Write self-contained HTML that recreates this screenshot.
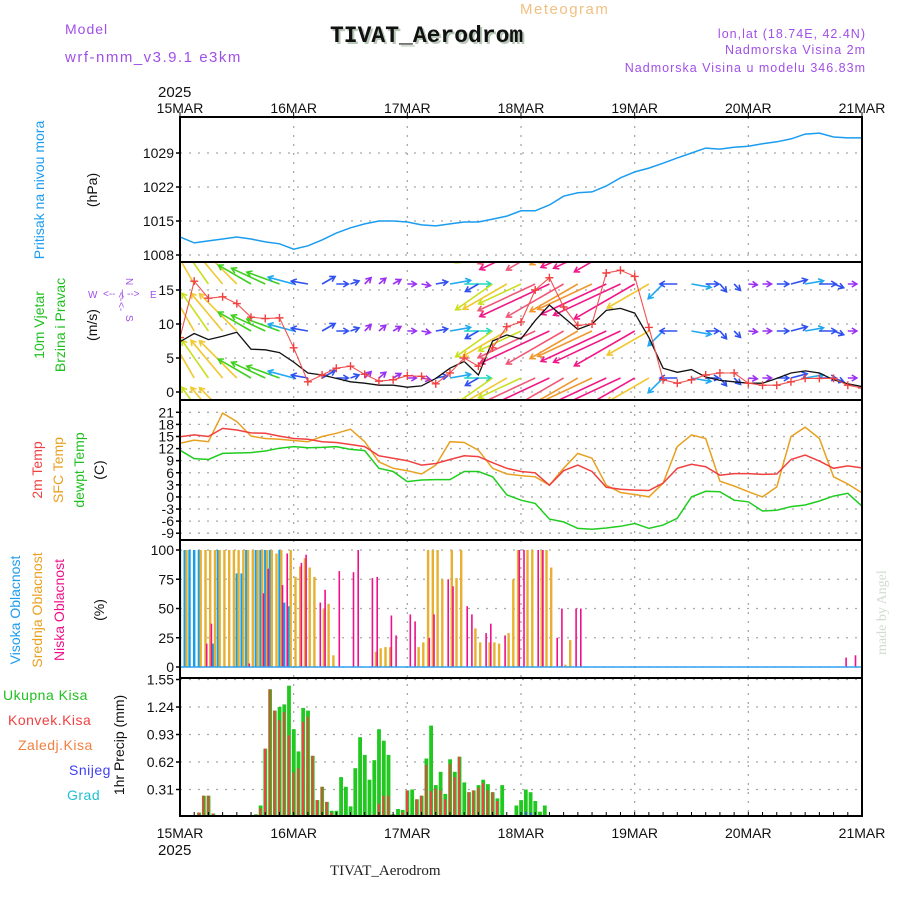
<!DOCTYPE html>
<html><head><meta charset="utf-8"><style>
html,body{margin:0;padding:0;background:#fff;}
svg{display:block;font-family:"Liberation Sans",sans-serif;}
</style></head><body>
<svg id="chart" width="900" height="900" viewBox="0 0 900 900" xmlns="http://www.w3.org/2000/svg">
<defs>
<clipPath id="cpP"><rect x="180" y="117" width="682" height="145"/></clipPath>
<clipPath id="cpW"><rect x="180" y="262" width="682" height="138"/></clipPath>
<clipPath id="cpT"><rect x="180" y="400" width="682" height="140"/></clipPath>
<clipPath id="cpC"><rect x="180" y="540" width="682" height="138"/></clipPath>
<clipPath id="cpR"><rect x="180" y="678" width="682" height="138"/></clipPath>
</defs>
<g>
<text x="65" y="34" font-size="14" fill="#a050e8" letter-spacing="1">Model</text>
<text x="65" y="62" font-size="15" fill="#a050e8" letter-spacing="1.5">wrf-nmm_v3.9.1 e3km</text>
<text x="520" y="14" font-size="15" fill="#f0c080" letter-spacing="1.5">Meteogram</text>
<text x="332" y="44" font-size="23" font-weight="bold" fill="#b8c8b8" font-family="Liberation Mono, monospace">TIVAT_Aerodrom</text>
<text x="330" y="42" font-size="23" font-weight="bold" fill="#111" font-family="Liberation Mono, monospace">TIVAT_Aerodrom</text>
<text x="866" y="38" font-size="12.5" fill="#a050e8" text-anchor="end" letter-spacing="1">lon,lat (18.74E, 42.4N)</text>
<text x="866" y="54" font-size="12.5" fill="#a050e8" text-anchor="end" letter-spacing="1">Nadmorska Visina 2m</text>
<text x="866" y="72" font-size="12.5" fill="#a050e8" text-anchor="end" letter-spacing="1">Nadmorska Visina u modelu 346.83m</text>
<text x="330" y="875" font-size="15" fill="#222" font-family="Liberation Serif, serif">TIVAT_Aerodrom</text>
<text transform="translate(886,655) rotate(-90)" font-size="14" fill="#d0dcd0" font-family="Liberation Serif, serif">made by Angel</text>
<text x="158" y="97" font-size="15" fill="#111">2025</text>
<text x="158" y="855" font-size="15" fill="#111">2025</text>
</g>
<g>
<text transform="translate(44,190) rotate(-90)" font-size="14" fill="#1e9cf0" text-anchor="middle">Pritisak na nivou mora</text>
<text transform="translate(97,190) rotate(-90)" font-size="14" fill="#111" text-anchor="middle">(hPa)</text>
<text transform="translate(44,325) rotate(-90)" font-size="14" fill="#20c020" text-anchor="middle">10m Vjetar</text>
<text transform="translate(65,325) rotate(-90)" font-size="14" fill="#20c020" text-anchor="middle">Brzina i Pravac</text>
<text transform="translate(97,325) rotate(-90)" font-size="14" fill="#111" text-anchor="middle">(m/s)</text>
<g fill="#a050e8" font-size="10">
<text x="88" y="298">W</text><text x="103" y="297">&lt;--</text><text x="121" y="297">|</text><text x="127" y="297">--&gt;</text><text x="150" y="298">E</text>
<text transform="translate(126,278) rotate(90)">N</text><text transform="translate(118,292) rotate(90)">&lt;-</text>
<text transform="translate(118,302) rotate(90)">&lt;-</text><text transform="translate(126,315) rotate(90)">S</text>
</g>
<text transform="translate(42,470) rotate(-90)" font-size="14" fill="#f04040" text-anchor="middle">2m Temp</text>
<text transform="translate(63,470) rotate(-90)" font-size="14" fill="#e8a020" text-anchor="middle">SFC Temp</text>
<text transform="translate(84,470) rotate(-90)" font-size="14" fill="#20c020" text-anchor="middle">dewpt Temp</text>
<text transform="translate(104,470) rotate(-90)" font-size="14" fill="#111" text-anchor="middle">(C)</text>
<text transform="translate(20,610) rotate(-90)" font-size="14" fill="#1e9cf0" text-anchor="middle">Visoka Oblacnost</text>
<text transform="translate(42,610) rotate(-90)" font-size="14" fill="#e8a020" text-anchor="middle">Srednja Oblacnost</text>
<text transform="translate(64,610) rotate(-90)" font-size="14" fill="#f0108a" text-anchor="middle">Niska Oblacnost</text>
<text transform="translate(104,610) rotate(-90)" font-size="14" fill="#111" text-anchor="middle">(%)</text>
<text x="3" y="700" font-size="14" fill="#20c020" letter-spacing="0.5">Ukupna Kisa</text>
<text x="8" y="725" font-size="14" fill="#f04040" letter-spacing="0.5">Konvek.Kisa</text>
<text x="18" y="750" font-size="14" fill="#f08040" letter-spacing="0.5">Zaledj.Kisa</text>
<text x="69" y="775" font-size="14" fill="#4040f0" letter-spacing="0.5">Snijeg</text>
<text x="67" y="800" font-size="14" fill="#20c0d0" letter-spacing="0.5">Grad</text>
<text transform="translate(124,745) rotate(-90)" font-size="14" fill="#111" text-anchor="middle">1hr Precip (mm)</text>
</g>
<g id="grid"></g>
<g id="marks"></g>
<g id="axes"></g>
</svg>
<script>
// ---- data (3-hourly series, index i -> hour 3*i from 15MAR 00) ----
const dayLabels = ["15MAR","16MAR","17MAR","18MAR","19MAR","20MAR","21MAR"];
const pressTicks = [1008,1015,1022,1029];
const windTicks = [0,5,10,15];
const tempTicks = [21,18,15,12,9,6,3,0,-3,-6,-9];
const cloudTicks = [0,25,50,75,100];
const precipTicks = ["0.31","0.62","0.93","1.24","1.55"];
const pressure = [1011.7,1010.5,1010.9,1011.3,1011.7,1011.3,1010.7,1010.3,1009.2,1009.9,1011.1,1012.5,1013.6,1014.4,1015.0,1015.0,1014.8,1014.2,1014.0,1014.4,1014.8,1014.8,1015.4,1016.0,1017.1,1017.1,1018.3,1020.1,1020.8,1021.0,1022.2,1023.9,1025.1,1025.9,1026.9,1028.0,1029.0,1030.0,1029.8,1030.2,1030.4,1030.9,1031.3,1031.9,1032.9,1033.1,1032.3,1032.1,1032.1];
const windSpeed = [7.4,8.6,7.7,8.2,8.8,6.3,6.2,5.8,4.4,2.8,2.5,2.0,1.5,1.3,1.0,1.0,0.7,0.9,2.0,3.5,4.5,2.5,7.5,8.4,7.8,10.5,12.8,11.0,9.2,10.0,12.0,12.3,11.6,8.0,3.5,2.9,3.3,2.2,1.7,1.5,1.3,1.3,2.0,2.8,3.1,2.8,1.8,1.2,0.8];
const windGust = [8.0,16.3,13.8,14.0,13.0,11.0,10.8,10.9,6.5,1.5,2.5,3.5,3.8,2.6,1.6,1.8,2.4,2.3,1.2,2.8,5.0,3.8,6.5,9.6,10.3,15.0,16.8,12.5,9.8,10.0,17.5,17.9,17.0,9.5,1.8,1.3,1.8,2.5,2.8,2.8,1.3,1.0,1.0,1.5,2.0,2.0,2.0,1.0,0.6];
const windDir = [330,330,325,320,315,300,295,290,285,280,60,90,70,45,50,60,90,100,80,80,90,240,235,240,245,245,245,240,240,245,245,245,240,240,225,270,100,90,140,135,95,90,90,75,80,90,110,90,90];
const temp2m = [14.95,15.4,15.0,17.0,16.6,15.9,15.8,15.1,14.5,14.3,13.7,13.5,13.0,12.5,10.2,9.6,9.0,7.9,8.3,9.3,10.2,10.0,8.5,7.1,6.3,6.0,2.9,6.5,7.9,6.3,2.4,1.9,1.7,1.6,3.4,7.1,8.1,7.5,5.4,5.8,5.8,5.6,5.7,9.3,10.4,8.9,7.1,7.7,7.2];
const tempSfc = [13.3,14.1,13.7,20.8,18.7,15.1,14.5,14.3,14.0,13.7,15.0,15.8,16.8,13.7,8.7,7.1,6.5,5.7,7.9,13.7,13.5,11.6,7.1,5.7,5.3,5.0,2.9,7.1,10.8,9.6,2.9,1.1,0.6,0.0,3.4,12.5,15.4,14.5,3.9,2.7,1.3,0.0,2.5,15.0,17.3,14.5,5.0,3.2,1.0];
const tempDew = [11.6,9.5,9.3,10.8,10.9,11.0,11.4,12.1,12.5,12.2,12.3,12.5,11.8,11.5,7.1,6.3,3.8,4.2,4.3,4.3,6.3,6.3,5.0,0.5,-0.8,-1.6,-5.5,-6.2,-7.8,-8.0,-7.7,-7.3,-6.6,-7.8,-7.0,-5.3,0.0,1.4,1.3,-0.8,-1.2,-3.5,-3.3,-2.4,-2.0,-1.0,0.2,0.9,-2.3];
// hourly cloud bars (hour, %)
const cloudHighHours = [0,1,2,3,4,7,8,12,13,14,16,17,18,19,21,22,23];
const cloudHighVals  = [100,100,100,100,100,20,100,80,80,100,100,100,100,100,100,55,52];
const cloudMidHours = [1,4,5,6,7,8,9,10,11,12,13,14,15,16,17,18,19,20,21,23,24,25,26,27,28,30,31,32,41,42,43,44,50,51,52,53,54,55,57,58,59,62,63,65,66,67,69,70,71,73,74,76,77,78,80,81,82];
const cloudMidVals  = [100,100,100,100,100,100,100,100,100,100,100,100,100,100,100,100,100,97,100,100,77,86,93,85,77,50,54,10,13,16,17,17,17,21,100,100,100,75,100,76,100,33,21,21,21,20,29,75,100,100,100,100,100,85,1,2,23];
const cloudLowHours = [5,6,14,17,18,21,22,25,26,29,30,33,36,37,40,41,44,45,48,49,52,53,56,57,60,61,64,65,68,71,72,75,76,79,80,83,84,140,142];
const cloudLowVals  = [20,37,3,63,84,70,97,89,96,55,66,82,81,100,76,77,44,27,45,39,25,45,75,69,52,45,29,37,27,100,100,100,100,25,50,50,50,8,10];
// hourly precipitation (hour, mm)
const precipHours = [4,5,6,7,16,17,18,19,20,21,22,23,24,25,26,27,28,29,30,31,32,33,34,35,36,37,38,39,40,41,42,43,44,45,46,47,48,49,50,51,52,53,54,55,56,57,58,59,60,61,62,63,64,65,66,67,68,69,71,72,73,74,75,76,77];
const precipTotal = [.05,.24,.24,.04,.03,.13,.77,1.44,1.2,1.24,1.27,1.48,.99,.74,1.23,1.2,.69,.19,.34,.17,.07,.07,.45,.34,.12,.55,.9,.7,.42,.64,.99,.86,.7,.03,.09,.08,.3,.31,.2,.24,.66,1.03,.36,.51,.26,.65,.51,.68,.39,.28,.3,.36,.42,.37,.28,.21,.36,.02,.13,.19,.31,.28,.18,.06,.13];
const precipConv = [.05,.24,.24,.04,0,.1,.77,1.44,1.2,1.09,1.18,.92,.5,.55,1.07,1.13,.69,.19,.34,.17,.05,0,0,0,0,0,0,0,0,.03,.15,.24,.24,0,0,.05,.3,0,.2,.24,.59,.29,.32,.3,.2,.6,.45,.68,0,.28,.3,.33,.38,.3,.28,.18,0,0,0,0,0,0,0,0,0];
const snowHours = [73,74,75];
const snowVals = [.06,.05,.02];

// ---- axis functions ----
const X0=180, X1=862;
const xh = h => X0 + h*(X1-X0)/144;
const xi = i => xh(i*3);
const yP = p => 255 - (p-1008)*4.857;
const yW = v => 392 - v*6.8;
const yT = t => 412.3 + (21-t)*4.03;
const yC = c => 667 - c*1.17;
const yR = r => 817 - r*88.7;

const NS="http://www.w3.org/2000/svg";
function mk(tag, attrs, parent){const e=document.createElementNS(NS,tag);for(const k in attrs)e.setAttribute(k,attrs[k]);parent.appendChild(e);return e;}
const grid=document.getElementById('grid'), marks=document.getElementById('marks'), axes=document.getElementById('axes');
const dot={stroke:"#a8a8a8","stroke-width":1.3,"stroke-dasharray":"2,7"};

// horizontal grid + tick labels
function hgrid(ticks, fy, labels, name){
  ticks.forEach((t,k)=>{
    const y=fy(+t);
    const g=mk('line',Object.assign({x1:X0,x2:X1,y1:y,y2:y},dot),grid);
    
    
    const tk=mk('line',{x1:X0-4,x2:X0,y1:y,y2:y,stroke:"#000","stroke-width":1.5},axes);
    
    
    const tx=mk('text',{x:X0-6,y:y+5,"font-size":14,"text-anchor":"end",fill:"#111"},axes);
    
    
    tx.textContent = labels ? labels[k] : t;
  });
}
hgrid(pressTicks,yP,null,'pressure');
hgrid(windTicks,yW,null,'wind');
hgrid(tempTicks,yT,null,'temp');
hgrid(cloudTicks,yC,null,'cloud');
hgrid(precipTicks,yR,precipTicks,'precip');
// vertical day grid
dayLabels.forEach((d,k)=>{
  const x=xh(k*24);
  if(k>0&&k<6){
    const v=mk('line',Object.assign({x1:x,x2:x,y1:117,y2:816},dot),grid);
    
    
  }
  const t1=mk('text',{x:x,y:113,"font-size":14,"text-anchor":"middle",fill:"#111"},axes);
  
  
  t1.textContent=d;
  const t2=mk('text',{x:x,y:838,"font-size":14,"text-anchor":"middle",fill:"#111"},axes);
  
  
  t2.textContent=d;
  const tk=mk('line',{x1:x,x2:x,y1:112,y2:118,stroke:"#000","stroke-width":1},axes);
  
  
});
for(let h=0;h<=144;h+=3){
  const tk=mk('line',{x1:xh(h),x2:xh(h),y1:812,y2:816,stroke:"#000","stroke-width":1},axes);
  
  
}
// panel frames
[[117,262],[262,400],[400,540],[540,678],[678,816]].forEach(p=>{
  const r=mk('rect',{x:X0,y:p[0],width:X1-X0,height:p[1]-p[0],fill:"none",stroke:"#000","stroke-width":2},axes);
  
  
});

function poly(vals, fy, color, name, clip, w){
  const pts=vals.map((v,i)=>xi(i).toFixed(1)+","+fy(v).toFixed(1)).join(" ");
  const l=mk('polyline',{points:pts,fill:"none",stroke:color,"stroke-width":w||1.4,"clip-path":"url(#"+clip+")"},marks);
  
  
}
// pressure
poly(pressure,yP,"#1a9cf0",'pressure-line','cpP',1.5);

// wind arrows
function windColor(v){
  if(v<1.5) return "#9a30f0";
  if(v<3) return "#3050f0";
  if(v<4.5) return "#20a8f0";
  if(v<5.8) return "#20d8c0";
  if(v<7) return "#40d020";
  if(v<8) return "#c8e020";
  if(v<9) return "#f0c830";
  if(v<10.5) return "#f09830";
  if(v<11.5) return "#f05878";
  return "#f01888";
}
const rows=[237,284,331,378,425];
const wg=mk('g',{"clip-path":"url(#cpW)"},marks);


rows.forEach(by=>{
  windSpeed.forEach((v,i)=>{
    const a=windDir[i]*Math.PI/180, L=Math.max(9,v*6);
    const x=xi(i), dx=Math.sin(a), dy=-Math.cos(a);
    const hx=x+dx*L, hy=by+dy*L, c=windColor(v);
    const ar=mk('path',{d:`M${x.toFixed(1)},${by} L${hx.toFixed(1)},${hy.toFixed(1)} M${(hx-dx*5-dy*3).toFixed(1)},${(hy-dy*5+dx*3).toFixed(1)} L${hx.toFixed(1)},${hy.toFixed(1)} L${(hx-dx*5+dy*3).toFixed(1)},${(hy-dy*5-dx*3).toFixed(1)}`,stroke:c,"stroke-width":1.6,fill:"none"},wg);
    
    
  });
});
poly(windSpeed,yW,"#111",'wind-speed-line','cpW',1.3);
poly(windGust,yW,"#f05050",'wind-gust-line','cpW',1.1);
windGust.forEach((v,i)=>{
  const x=xi(i), y=yW(v);
  const p=mk('path',{d:`M${x-4},${y} h8 M${x},${y-4} v8`,stroke:"#f04040","stroke-width":1.4,"clip-path":"url(#cpW)"},marks);
  
  
});

// temperatures
poly(tempDew,yT,"#20cc20",'dewpoint-line','cpT',1.5);
poly(tempSfc,yT,"#e8a020",'sfc-temp-line','cpT',1.5);
poly(temp2m,yT,"#f04040",'temp-2m-line','cpT',1.5);

// cloud bars
function bars(hours, vals, fy, y0, color, off, w, name, clip){
  hours.forEach((h,k)=>{
    const y=fy(vals[k]);
    const r=mk('rect',{x:(xh(h)+off).toFixed(1),y:y.toFixed(1),width:w,height:Math.max(0,y0-y).toFixed(1),fill:color,"clip-path":"url(#"+clip+")"},marks);
    
    
  });
}
bars(cloudHighHours,cloudHighVals,yC,667,"#10a0f0",-1.2,2.4,'cloud-high-bar','cpC');
bars(cloudMidHours,cloudMidVals,yC,667,"#e8b030",0.6,2.4,'cloud-mid-bar','cpC');
bars(cloudLowHours,cloudLowVals,yC,667,"#f0108a",2.2,1.6,'cloud-low-bar','cpC');
const cb=mk('line',{x1:X0,x2:X1,y1:667,y2:667,stroke:"#30a0f0","stroke-width":1.5},marks);



// precipitation
bars(precipHours,precipTotal,yR,817,"#20c820",-1.8,3.8,'precip-total-bar','cpR');
bars(precipHours,precipConv,yR,817,"#f04040",-1.2,2,'precip-conv-bar','cpR');
bars(snowHours,snowVals,yR,817,"#4050f0",-0.6,1.8,'snow-bar','cpR');
</script>
</body></html>
